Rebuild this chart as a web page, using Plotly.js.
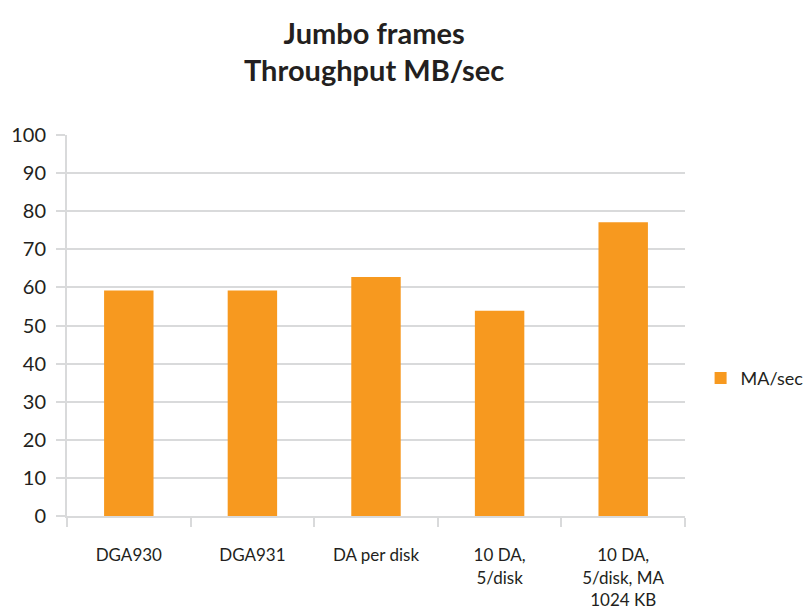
<!DOCTYPE html>
<html>
<head>
<meta charset="utf-8">
<script src="https://cdn.plot.ly/plotly-3.0.1.min.js"></script>
<style>
  html, body { margin: 0; padding: 0; background: #ffffff; }
  #chart { width: 809px; height: 613px; }
</style>
</head>
<body>
<div id="chart"></div>
<script>
// Throughput per configuration, jumbo frames enabled
const categories = [
  "DGA930",
  "DGA931",
  "DA per disk",
  "10 DA,<br>5/disk",
  "10 DA,<br>5/disk, MA<br>1024 KB"
];
const seriesName = "MA/sec";
const throughput = [59.2, 59.2, 62.7, 53.9, 77.1];
const yTicks = [0, 10, 20, 30, 40, 50, 60, 70, 80, 90, 100];

const fontFamily = "Lato, 'Noto Sans', sans-serif";
const gridColor = "#d9dadb";
const barColor = "#f7991f";

const trace = {
  type: "bar",
  x: categories,
  y: throughput,
  name: seriesName,
  marker: { color: barColor },
  showlegend: true,
  hoverinfo: "x+y"
};

const layout = {
  width: 809,
  height: 613,
  paper_bgcolor: "#ffffff",
  plot_bgcolor: "#ffffff",
  margin: { l: 67, r: 124, t: 135, b: 97, autoexpand: false },
  bargap: 0.6,
  title: {
    text: "<b>Jumbo frames<br>Throughput MB/sec</b>",
    font: { family: fontFamily, size: 29, color: "#231f20" },
    xref: "paper",
    x: 0.497,
    xanchor: "center",
    yref: "container",
    y: 0.929,
    yanchor: "middle"
  },
  xaxis: {
    type: "category",
    showline: true,
    linecolor: gridColor,
    linewidth: 2,
    ticks: "outside",
    tickson: "boundaries",
    ticklen: 9,
    tickwidth: 2,
    tickcolor: gridColor,
    ticklabelstandoff: 23,
    tickfont: { family: fontFamily, size: 17, color: "#231f20" },
    showgrid: false,
    zeroline: false,
    fixedrange: true
  },
  yaxis: {
    range: [0, 100],
    tickvals: yTicks,
    ticktext: yTicks.map(String),
    showline: true,
    linecolor: gridColor,
    linewidth: 2,
    ticks: "outside",
    ticklen: 9,
    tickwidth: 2,
    tickcolor: gridColor,
    ticklabelstandoff: 6,
    tickfont: { family: fontFamily, size: 20, color: "#231f20" },
    showgrid: true,
    gridcolor: gridColor,
    gridwidth: 2,
    zeroline: false,
    fixedrange: true
  },
  legend: {
    xref: "container",
    yref: "container",
    x: 0.866,
    xanchor: "left",
    y: 0.383,
    yanchor: "middle",
    font: { family: fontFamily, size: 18, color: "#231f20" },
    bgcolor: "rgba(0,0,0,0)"
  },
  showlegend: true
};

Plotly.newPlot("chart", [trace], layout, { displayModeBar: false, staticPlot: true });
</script>
</body>
</html>
